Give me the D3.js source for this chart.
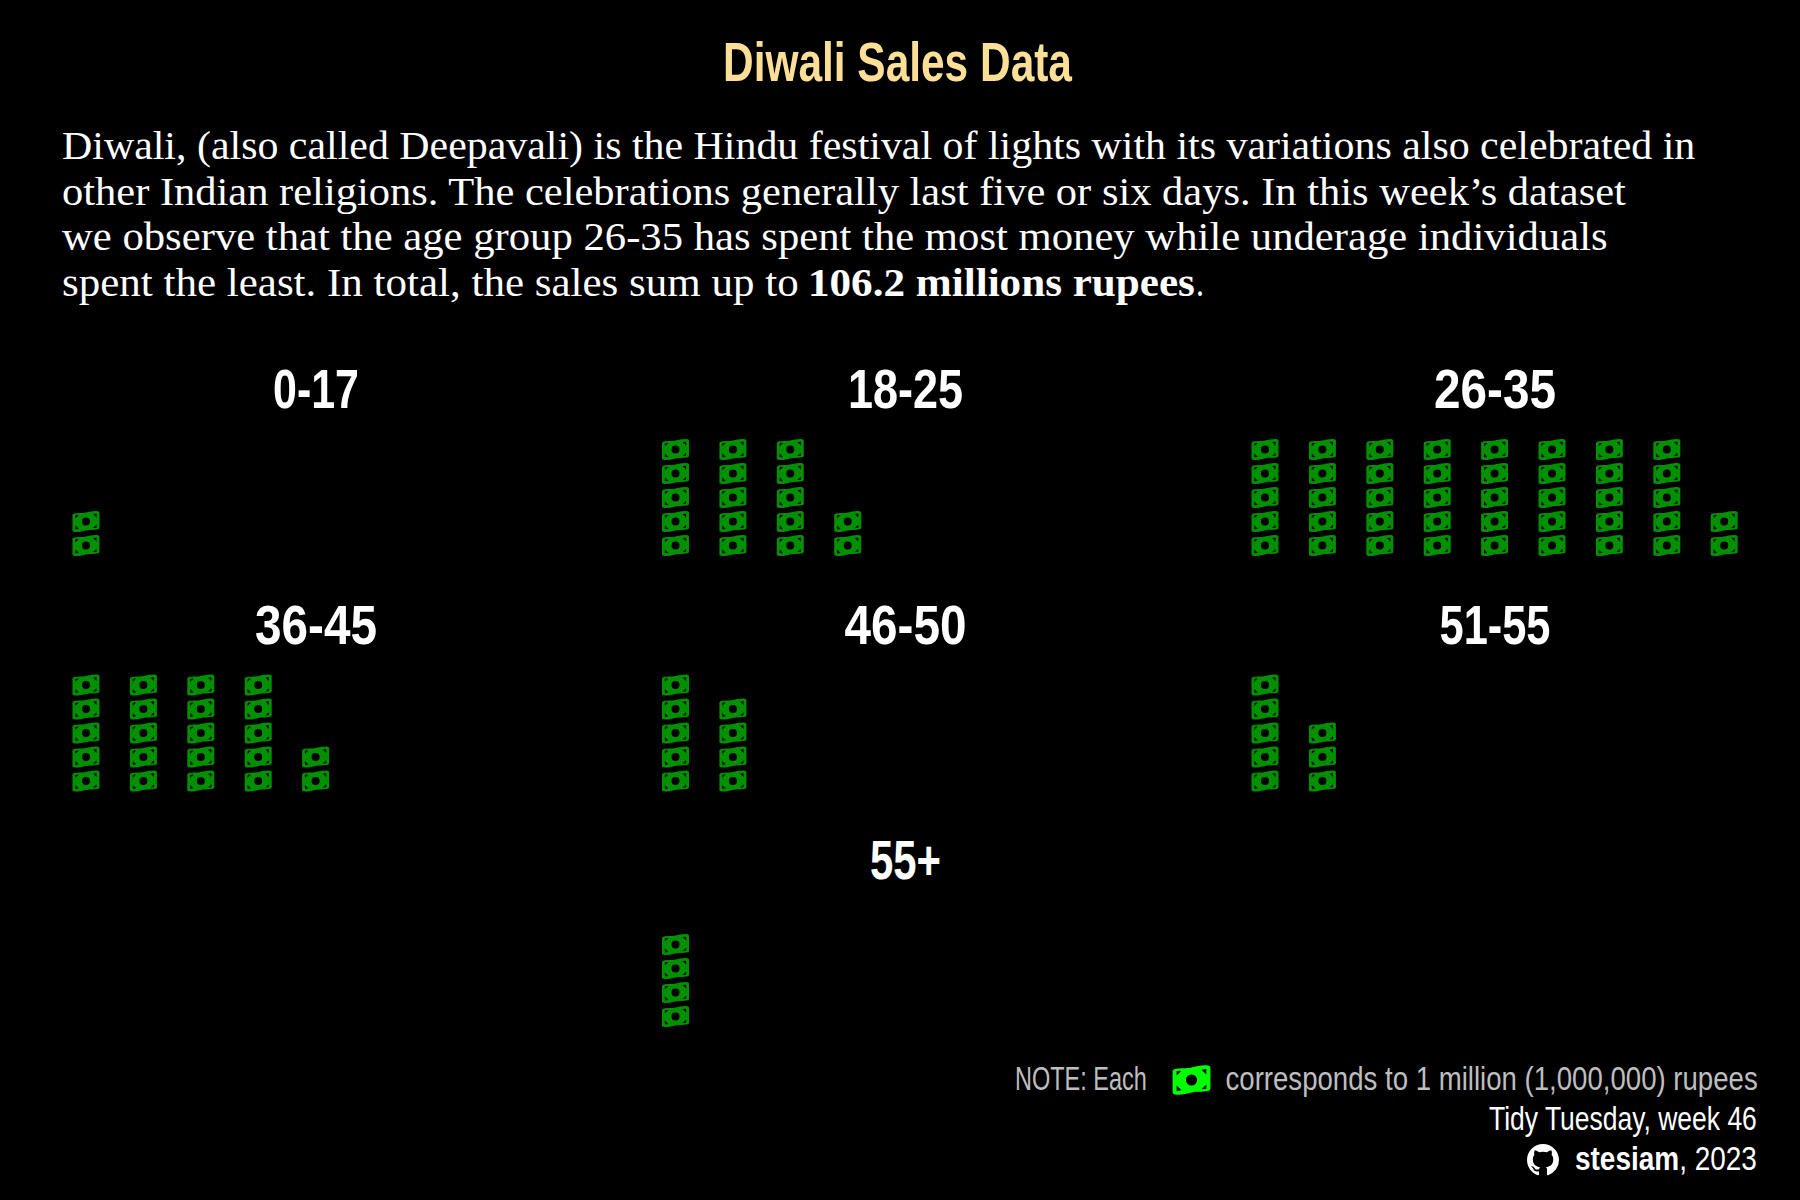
<!DOCTYPE html>
<html>
<head>
<meta charset="utf-8">
<script src="https://cdn.jsdelivr.net/npm/d3@7"></script>
<style>
	html, body { margin: 0; padding: 0; background: #000; }
	svg { display: block; }
</style>
</head>
<body>
<script>
// millions of rupees per age group, one icon per million
var ageGroups = ["0-17", "18-25", "26-35", "36-45", "46-50", "51-55", "55+"];
var millions = [2, 17, 42, 22, 9, 8, 4];
var labelWidths = [86, 115, 122, 122, 122, 111, 71];

var introLines = [
	{text: "Diwali, (also called Deepavali) is the Hindu festival of lights with its variations also celebrated in", end: 1696},
	{text: "other Indian religions. The celebrations generally last five or six days. In this week\u2019s dataset", end: 1626},
	{text: "we observe that the age group 26-35 has spent the most money while underage individuals", end: 1608},
	{text: "spent the least. In total, the sales sum up to", end: 799}
];

var perColumn = 5;
var facetCols = 3;

var serif = "'Liberation Serif', serif";
var narrow = "'Liberation Sans Narrow', 'Liberation Sans', sans-serif";

var svg = d3.select("body").append("svg")
	.attr("width", 1800)
	.attr("height", 1200)
	.style("background", "#000");

// wavy banknote, with the hole and corner notches cut out
var billPath = "M-13.5 -6.3Q-13.5 -7.4 -12.3 -7.7C-7 -8.9 -4 -7.9 0 -8.9C4 -9.9 8 -11 12 -10.3Q13.5 -10 13.5 -8.9" +
	"L13.5 6.3Q13.5 7.4 12.3 7.7C7 8.9 4 7.9 0 8.9C-4 9.9 -8 11 -12 10.3Q-13.5 10 -13.5 8.9Z" +
	"M4 0A4 4 0 1 1 -4 0A4 4 0 1 1 4 0Z" +
	"M-10.6 -6.2L-7.2 -6.6L-10.6 -3.2Z" +
	"M10.6 -7.8L7.2 -7.4L10.6 -4Z" +
	"M-10.6 4L-7.2 7.4L-10.6 7.8Z" +
	"M10.6 3.2L7.2 6.6L10.6 6.2Z";

var githubPath = "M8 0C3.58 0 0 3.58 0 8c0 3.54 2.29 6.53 5.47 7.59.4.07.55-.17.55-.38 0-.19-.01-.82-.01-1.49-2.01.37-2.53-.49-2.69-.94-.09-.23-.48-.94-.82-1.13-.28-.15-.68-.52-.01-.53.63-.01 1.08.58 1.23.82.72 1.21 1.87.87 2.33.66.07-.52.28-.87.51-1.07-1.78-.2-3.64-.89-3.64-3.95 0-.87.31-1.59.82-2.15-.08-.2-.36-1.02.08-2.12 0 0 .67-.21 2.2.82.64-.18 1.32-.27 2-.27.68 0 1.36.09 2 .27 1.53-1.04 2.2-.82 2.2-.82.44 1.1.16 1.92.08 2.12.51.56.82 1.27.82 2.15 0 3.07-1.87 3.75-3.65 3.95.29.25.54.73.54 1.48 0 1.07-.01 1.93-.01 2.2 0 .21.15.46.55.38A8.013 8.013 0 0016 8c0-4.42-3.58-8-8-8z";

// squeeze a text to the width it has in the chart
function fitText(sel, x0, x1, y) {
	var natural = sel.node().getComputedTextLength();
	sel.attr("transform", "translate(" + x0 + "," + y + ") scale(" + ((x1 - x0) / natural) + ",1)");
	return sel;
}

function addText(parent, str, x0, x1, y, size, font, weight, colour) {
	var t = parent.append("text")
		.style("font-family", font)
		.style("font-size", size + "px")
		.style("font-weight", weight)
		.style("fill", colour)
		.text(str);
	return fitText(t, x0, x1, y);
}

addText(svg, "Diwali Sales Data", 723, 1072, 81, 55, narrow, "bold", "#fbdf97");

introLines.forEach(function(line, i) {
	addText(svg, line.text, 62, line.end, 159 + i * 45.7, 41, serif, "normal", "#fff");
});
addText(svg, "106.2 millions rupees", 808, 1195, 296, 41, serif, "bold", "#fff");
addText(svg, ".", 1196, 1204, 296, 41, serif, "normal", "#fff");

// facet positions
var facetX = d3.scaleLinear().domain([0, 1]).range([86, 675.5]);
var facetY = d3.scaleLinear().domain([0, 1]).range([545.5, 781]);
var labelX = d3.scaleLinear().domain([0, 1]).range([316, 905.5]);
var labelY = d3.scaleLinear().domain([0, 1]).range([408, 643.5]);

// icon positions inside a facet
var cellX = d3.scaleLinear().domain([0, 1]).range([0, 57.4]);
var cellY = d3.scaleLinear().domain([0, 1]).range([0, -24]);

var facets = ageGroups.map(function(name, i) {
	// the last group sits alone in the middle column
	var col = i < 6 ? i % facetCols : 1;
	var row = Math.floor(i / facetCols);
	return {name: name, value: millions[i], labelWidth: labelWidths[i], col: col, row: row};
});

var groups = svg.selectAll("g.facet")
	.data(facets)
	.enter().append("g")
	.attr("class", "facet");

groups.each(function(d) {
	var g = d3.select(this);
	var mid = labelX(d.col);

	addText(g, d.name, mid - d.labelWidth / 2, mid + d.labelWidth / 2, labelY(d.row), 55, narrow, "bold", "#fff");

	g.selectAll("path.bill")
		.data(d3.range(d.value))
		.enter().append("path")
		.attr("class", "bill")
		.attr("d", billPath)
		.attr("fill-rule", "evenodd")
		.attr("fill", "#009000")
		.attr("transform", function(k) {
			var x = facetX(d.col) + cellX(Math.floor(k / perColumn));
			var y = facetY(d.row) + cellY(k % perColumn);
			return "translate(" + x + "," + y + ")";
		});
});

// caption
addText(svg, "NOTE: Each", 1015, 1147, 1090, 33, narrow, "normal", "#bebebe");
svg.append("path")
	.attr("d", billPath)
	.attr("fill-rule", "evenodd")
	.attr("fill", "#00ff00")
	.attr("transform", "translate(1191.5,1080) scale(1.4,1.4)");
addText(svg, "corresponds to 1 million (1,000,000) rupees", 1225.5, 1758, 1090, 33, narrow, "normal", "#bebebe");
addText(svg, "Tidy Tuesday, week 46", 1489, 1757, 1130, 33, narrow, "normal", "#fff");
svg.append("path")
	.attr("d", githubPath)
	.attr("fill", "#fff")
	.attr("transform", "translate(1527,1144) scale(2)");

var credit = svg.append("text")
	.style("font-family", narrow)
	.style("font-size", "33px")
	.style("fill", "#fff");
credit.append("tspan").style("font-weight", "bold").text("stesiam");
credit.append("tspan").text(", 2023");
fitText(credit, 1575, 1757, 1170);
</script>
</body>
</html>
